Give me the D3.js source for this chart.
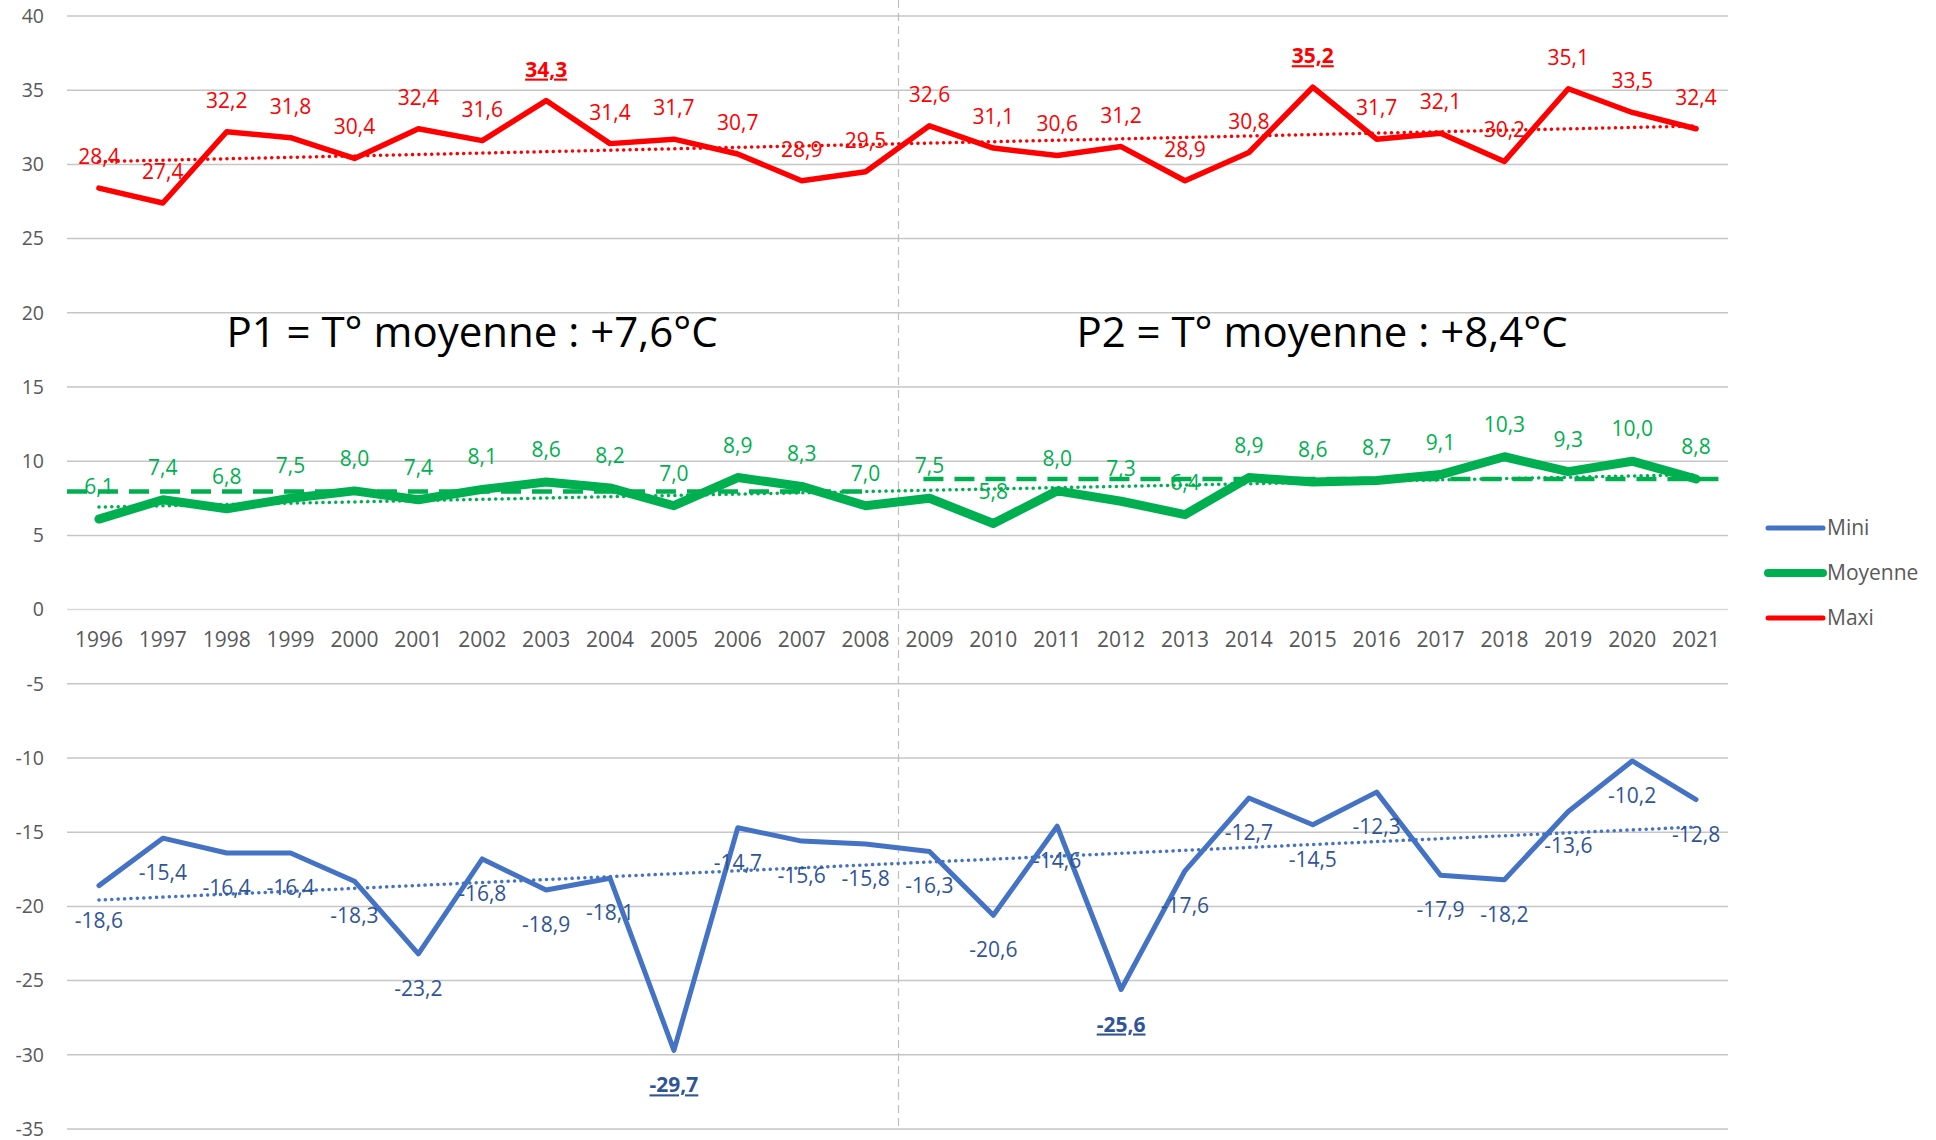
<!DOCTYPE html>
<html>
<head>
<meta charset="utf-8">
<script src="https://cdn.jsdelivr.net/npm/d3@7"></script>
<style>
body { margin: 0; background: #fff; }
text { font-family: "Open Sans", sans-serif; }
</style>
</head>
<body>
<script>
// data
const years = ["1996","1997","1998","1999","2000","2001","2002","2003","2004","2005","2006","2007","2008",
    "2009","2010","2011","2012","2013","2014","2015","2016","2017","2018","2019","2020","2021"];
const maxi = [28.4, 27.4, 32.2, 31.8, 30.4, 32.4, 31.6, 34.3, 31.4, 31.7, 30.7, 28.9, 29.5,
    32.6, 31.1, 30.6, 31.2, 28.9, 30.8, 35.2, 31.7, 32.1, 30.2, 35.1, 33.5, 32.4];
const moyenne = [6.1, 7.4, 6.8, 7.5, 8.0, 7.4, 8.1, 8.6, 8.2, 7.0, 8.9, 8.3, 7.0,
    7.5, 5.8, 8.0, 7.3, 6.4, 8.9, 8.6, 8.7, 9.1, 10.3, 9.3, 10.0, 8.8];
const mini = [-18.6, -15.4, -16.4, -16.4, -18.3, -23.2, -16.8, -18.9, -18.1, -29.7, -14.7, -15.6, -15.8,
    -16.3, -20.6, -14.6, -25.6, -17.6, -12.7, -14.5, -12.3, -17.9, -18.2, -13.6, -10.2, -12.8];
// dashed period levels as drawn on the chart
const periodLevels = [7.95, 8.8];
const periodTitles = ["P1 = T° moyenne : +7,6°C", "P2 = T° moyenne : +8,4°C"];
const yTicks = [40, 35, 30, 25, 20, 15, 10, 5, 0, -5, -10, -15, -20, -25, -30, -35];
// labels shown bold + underlined (period extremes)
const maxiHighlight = ["2003", "2015"];
const miniHighlight = ["2005", "2012"];
const legendNames = ["Mini", "Moyenne", "Maxi"];

const width = 1936;
const height = 1140;
const red = "#FF0000", green = "#00B050", blue = "#4472C4", blueText = "#2F5597", gray = "#595959";

const svg = d3.select("body").append("svg")
    .attr("width", width)
    .attr("height", height);

const x = d3.scaleBand()
    .domain(years)
    .range([67, 1728]);
const cx = d => x(d) + x.bandwidth() / 2;

const y = d3.scaleLinear()
    .domain([-35, 40])
    .range([1129, 16]);

//gridlines
svg.append("g")
    .selectAll("line")
    .data(yTicks)
    .enter()
    .append("line")
    .attr("x1", 67)
    .attr("x2", 1728)
    .attr("y1", d => y(d))
    .attr("y2", d => y(d))
    .attr("stroke", d => d === 0 ? "#D9D9D9" : "#C6C6C6")
    .attr("stroke-width", 1.5);

//y labels
svg.append("g")
    .selectAll("text")
    .data(yTicks)
    .enter()
    .append("text")
    .attr("x", 44)
    .attr("y", d => y(d))
    .attr("dy", "0.35em")
    .attr("text-anchor", "end")
    .attr("font-size", "19.5px")
    .attr("fill", gray)
    .text(d => String(d));

//year labels under the zero line
const xAxis = svg.append("g")
    .attr("transform", `translate(0,${y(0)})`)
    .call(d3.axisBottom(x).tickSize(0).tickPadding(22));
xAxis.select(".domain").remove();
xAxis.selectAll("text")
    .attr("font-family", "Open Sans")
    .attr("font-size", "21px")
    .attr("fill", gray);

//separator between periods
svg.append("line")
    .attr("x1", x("2009") + 1)
    .attr("x2", x("2009") + 1)
    .attr("y1", 0)
    .attr("y2", y(-35))
    .attr("stroke", "#BFBFBF")
    .attr("stroke-width", 1.2)
    .attr("stroke-dasharray", "8 5");

//period titles
svg.selectAll(".ptitle")
    .data(periodTitles)
    .enter()
    .append("text")
    .attr("class", "ptitle")
    .attr("x", (d, i) => i === 0 ? 472 : 1322)
    .attr("y", 347)
    .attr("text-anchor", "middle")
    .attr("font-size", "42px")
    .attr("fill", "#000")
    .text(d => d);

//dashed period means
const periodSpans = [[67, cx("2008")], [cx("2009") - 6, 1728]];
svg.selectAll(".pmean")
    .data(periodLevels)
    .enter()
    .append("line")
    .attr("class", "pmean")
    .attr("x1", (d, i) => periodSpans[i][0])
    .attr("x2", (d, i) => periodSpans[i][1])
    .attr("y1", d => y(d))
    .attr("y2", d => y(d))
    .attr("stroke", green)
    .attr("stroke-width", 4.5)
    .attr("stroke-dasharray", "20 11");

const line = d3.line()
    .x((d, i) => cx(years[i]))
    .y(d => y(d));

const series = [
    { name: "Mini", values: mini, color: blue, w: 5 },
    { name: "Moyenne", values: moyenne, color: green, w: 9 },
    { name: "Maxi", values: maxi, color: red, w: 5.5 }
];

series.forEach(s => {
    svg.append("path")
        .datum(s.values)
        .attr("d", line)
        .attr("fill", "none")
        .attr("stroke", s.color)
        .attr("stroke-width", s.w)
        .attr("stroke-linejoin", "round")
        .attr("stroke-linecap", "round");
});

//linear trendlines (least squares on the series)
function trend(vals) {
    const n = vals.length;
    const mx = (n - 1) / 2;
    const my = d3.mean(vals);
    let num = 0, den = 0;
    vals.forEach((v, i) => { num += (i - mx) * (v - my); den += (i - mx) * (i - mx); });
    const b = num / den;
    return [my - b * mx, my + b * (n - 1 - mx)];
}

series.forEach(s => {
    const t = trend(s.values);
    svg.append("line")
        .attr("x1", cx(years[0]))
        .attr("x2", cx(years[years.length - 1]))
        .attr("y1", y(t[0]))
        .attr("y2", y(t[1]))
        .attr("stroke", s.color)
        .attr("stroke-width", 3.5)
        .attr("stroke-linecap", "round")
        .attr("stroke-dasharray", "0.1 6.3");
});

const fmt = v => v.toFixed(1).replace(".", ",");

//data labels
function labels(vals, color, dy, hl) {
    svg.append("g")
        .selectAll("text")
        .data(vals)
        .enter()
        .append("text")
        .attr("x", (d, i) => cx(years[i]))
        .attr("y", d => y(d) + dy)
        .attr("text-anchor", "middle")
        .attr("font-size", "21px")
        .attr("fill", color)
        .attr("font-weight", (d, i) => hl.includes(years[i]) ? "bold" : "normal")
        .attr("text-decoration", (d, i) => hl.includes(years[i]) ? "underline" : "none")
        .text(d => fmt(d));
}
labels(maxi, red, -24, maxiHighlight);
labels(moyenne, green, -25, []);
labels(mini, blueText, 42, miniHighlight);

//legend
const legend = svg.append("g")
    .selectAll("g")
    .data(legendNames)
    .enter()
    .append("g")
    .attr("transform", (d, i) => `translate(1768,${528 + i * 45})`);

legend.append("line")
    .attr("x1", 0)
    .attr("x2", 55)
    .attr("stroke", d => series.find(s => s.name === d).color)
    .attr("stroke-width", d => d === "Moyenne" ? 8 : 5)
    .attr("stroke-linecap", "round");

legend.append("text")
    .attr("x", 59)
    .attr("dy", "0.35em")
    .attr("font-size", "21px")
    .attr("fill", gray)
    .text(d => d);
</script>
</body>
</html>
